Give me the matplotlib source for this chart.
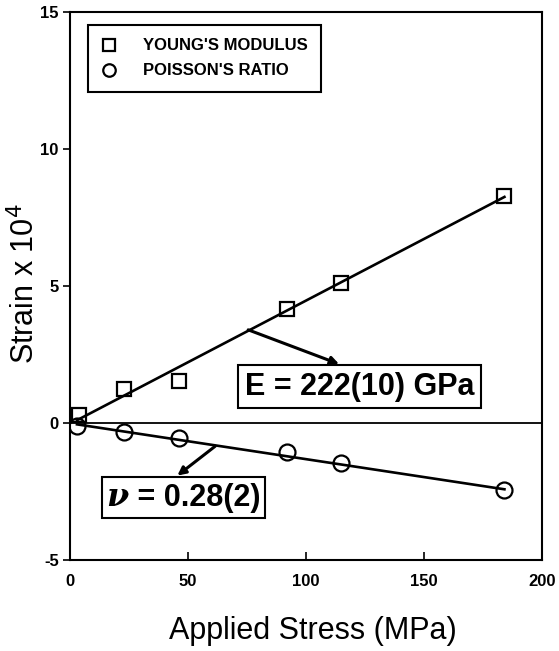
import matplotlib
matplotlib.use("Agg")
import matplotlib.pyplot as plt
from matplotlib.offsetbox import TextArea, HPacker, AnnotationBbox

# ---- data ----
stress_E = [4, 23, 46, 92, 115, 184]
strain_E = [0.3, 1.25, 1.55, 4.15, 5.1, 8.3]
stress_nu = [3, 23, 46, 92, 115, 184]
strain_nu = [-0.12, -0.33, -0.55, -1.05, -1.45, -2.45]

fitE_x = [3, 184]
fitE_y = [0.1, 8.25]
fitnu_x = [3, 184]
fitnu_y = [-0.05, -2.42]

xticks = [0, 50, 100, 150, 200]
yticks = [-5, 0, 5, 10, 15]

label_E = "YOUNG'S MODULUS"
label_nu = "POISSON'S RATIO"
text_E = "E = 222(10) GPa"
text_nu_sym = "ν"
text_nu_val = " = 0.28(2)"

# ---- figure ----
fig = plt.figure(figsize=(5.59, 6.51), dpi=100)
ax = fig.add_axes([0.125, 0.1398, 0.845, 0.8418])
sans = "Liberation Sans"

ax.plot(fitE_x, fitE_y, color="black", lw=1.9, zorder=2)
ax.plot(fitnu_x, fitnu_y, color="black", lw=1.9, zorder=2)
ax.axhline(0, color="black", lw=1.3, zorder=1)

hE, = ax.plot(stress_E, strain_E, ls="none", marker="s", ms=10, mew=1.6,
              mfc="none", mec="black", label=label_E, zorder=3)
hN, = ax.plot(stress_nu, strain_nu, ls="none", marker="o", ms=11.5, mew=1.6,
              mfc="none", mec="black", label=label_nu, zorder=3)

ax.set_xlim(0, 200)
ax.set_ylim(-5, 15)
ax.set_xticks(xticks)
ax.set_yticks(yticks)
ax.set_xticklabels([str(v) for v in xticks], fontfamily=sans, fontweight="bold", fontsize=12)
ax.set_yticklabels([str(v) for v in yticks], fontfamily=sans, fontweight="bold", fontsize=12)
ax.tick_params(axis="x", direction="in", length=6, width=1.2, pad=10)
ax.tick_params(axis="y", direction="out", length=5, width=1.2, pad=3)
for s in ax.spines.values():
    s.set_linewidth(1.5)

ax.set_xlabel("Applied Stress (MPa)", fontfamily=sans, fontsize=22)
ax.xaxis.set_label_coords(0.515, -0.102)
ax.set_ylabel("Strain x 10$^4$", fontfamily=sans, fontsize=22)
ax.yaxis.set_label_coords(-0.061, 0.505)

leg = ax.legend(handles=[hE, hN], loc="upper left", bbox_to_anchor=(0.038, 0.976),
                borderaxespad=0, frameon=True, fancybox=False, edgecolor="black",
                prop={"family": sans, "weight": "bold", "size": 12},
                handlelength=1.0, handletextpad=1.5, borderpad=0.8, labelspacing=0.6,
                framealpha=1)
leg.get_frame().set_linewidth(1.5)
for h in leg.legend_handles:
    h.set_markersize(9)

# E annotation
ax.text(122.7, 1.33, text_E, fontfamily=sans, fontweight="bold", fontsize=22,
        ha="center", va="center",
        bbox=dict(boxstyle="square,pad=0.22", fc="white", ec="black", lw=1.5), zorder=4)
ax.annotate("", xy=(114, 2.15), xytext=(75.5, 3.4),
            arrowprops=dict(arrowstyle="-|>", lw=2.2, color="black", mutation_scale=12,
                            shrinkA=0, shrinkB=0), zorder=4)

# nu annotation
ta1 = TextArea(text_nu_sym, textprops=dict(family="DejaVu Serif", weight="bold",
                                           style="italic", size=23))
ta2 = TextArea(text_nu_val, textprops=dict(family=sans, weight="bold", size=22))
pack = HPacker(children=[ta1, ta2], align="baseline", pad=0, sep=0)
ab = AnnotationBbox(pack, (48, -2.72), xycoords="data", frameon=True,
                    box_alignment=(0.5, 0.5), pad=0.35,
                    bboxprops=dict(boxstyle="square,pad=0.35", fc="white", ec="black", lw=1.5),
                    zorder=4)
ax.add_artist(ab)
ax.annotate("", xy=(45.5, -1.92), xytext=(61.5, -0.85),
            arrowprops=dict(arrowstyle="-|>", lw=2.2, color="black", mutation_scale=12,
                            shrinkA=0, shrinkB=0), zorder=4)

fig.savefig("out.png", dpi=100)
